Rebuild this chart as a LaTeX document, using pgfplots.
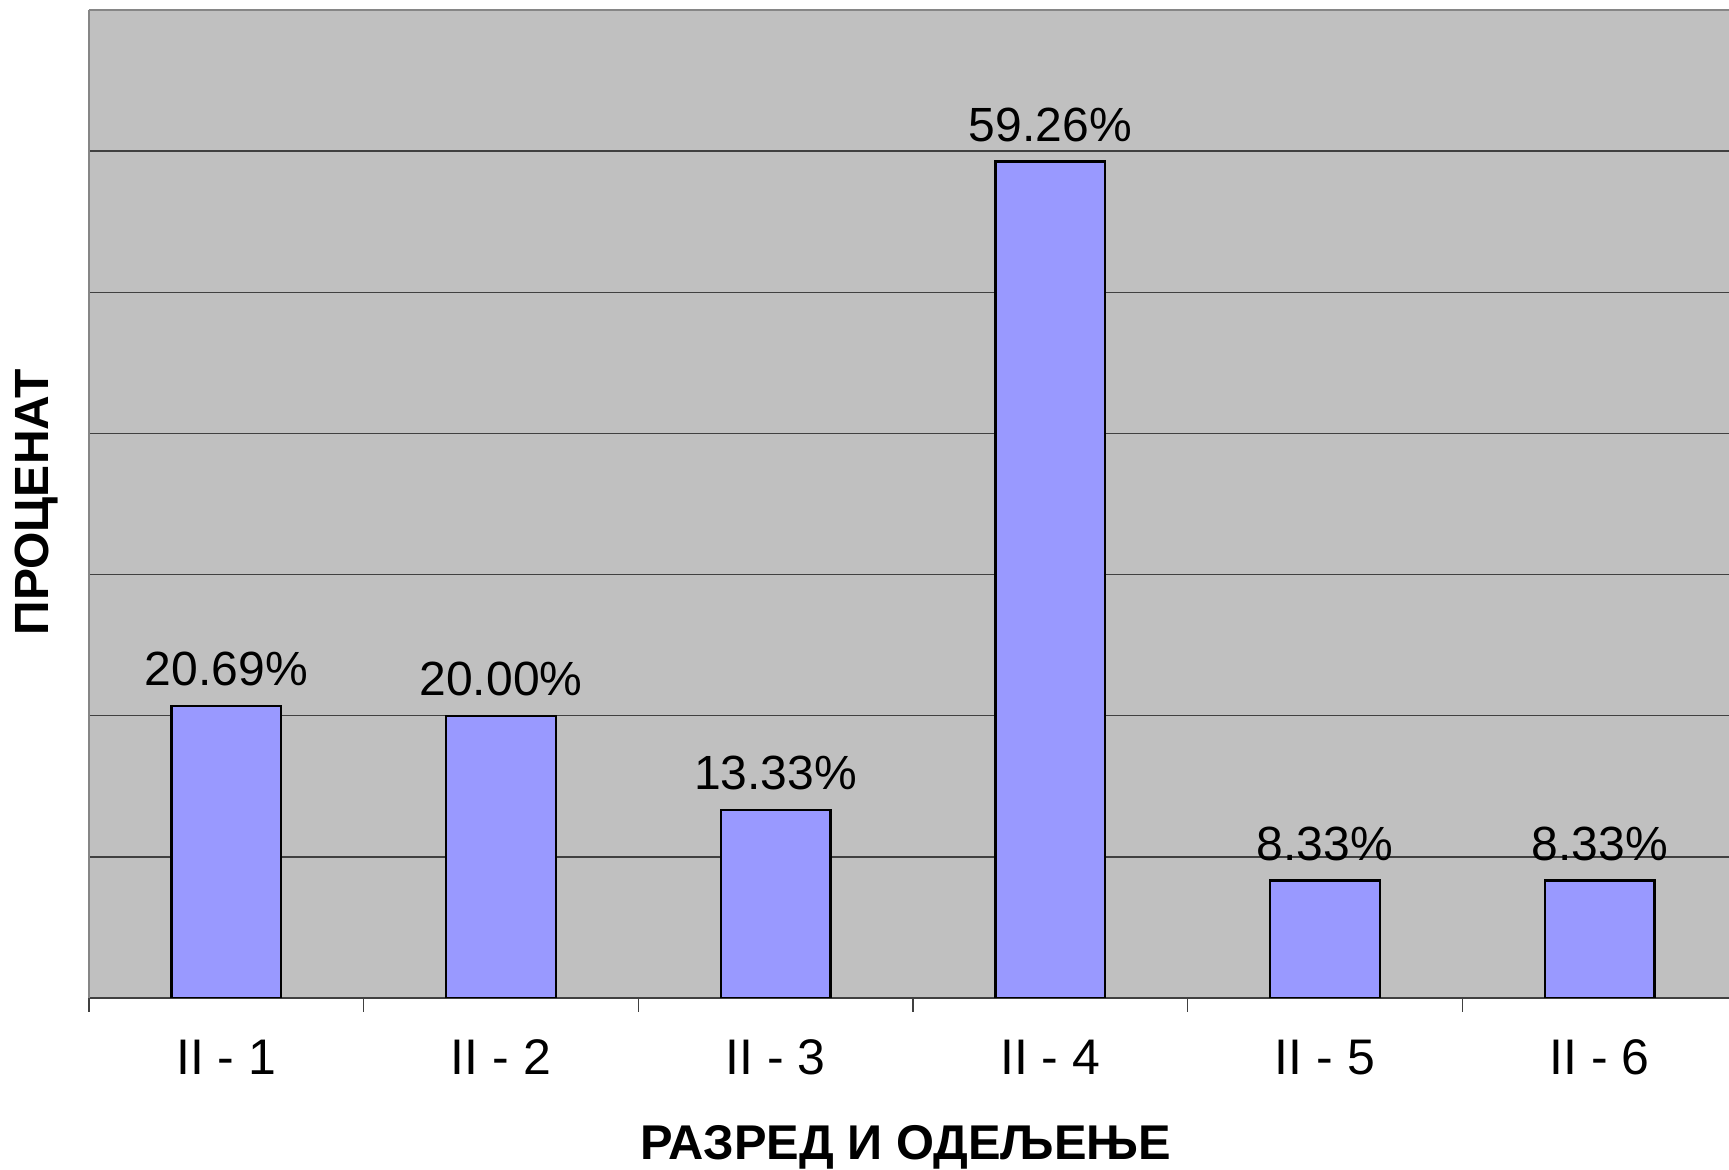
\documentclass[border=0pt]{standalone}
\usepackage{fontspec}
\setmainfont{Liberation Sans}
\usepackage{pgfplots}
\pgfplotsset{compat=1.18}
\definecolor{plotbg}{HTML}{C0C0C0}
\definecolor{barfill}{HTML}{9999FF}
\definecolor{gridc}{HTML}{404040}
\definecolor{framec}{HTML}{868686}
\begin{document}
\begin{tikzpicture}
\useasboundingbox (-44.5pt,-86pt) rectangle (820pt,499pt);
\begin{axis}[
	at={(0,0)}, anchor=south west,
	scale only axis, width=824pt, height=494pt,
	xmin=-0.5, xmax=5.5, ymin=0, ymax=70,
	axis background/.style={fill=plotbg},
	axis x line*=bottom, axis y line*=left,
	x axis line style={gridc, line width=1.3pt},
	y axis line style={framec, line width=1pt},
	ybar, bar width=0.4,
	xtick={0,...,5},
	xticklabels={II - 1, II - 2, II - 3, II - 4, II - 5, II - 6},
	minor xtick={-0.5,0.5,...,4.5},
	major tick length=0pt, minor tick length=7pt,
	tick align=outside,
	minor tick style={gridc, line width=0.6pt},
	xticklabel style={font=\fontsize{25}{30}\selectfont, anchor=base, yshift=-38.5pt},
	ytick={10,20,...,60}, yticklabels={},
	ymajorgrids, grid style={gridc, line width=0.75pt},
	extra y ticks={70}, extra y tick labels={},
	extra y tick style={grid style={framec, line width=1pt}},
	xlabel={\textbf{РАЗРЕД И ОДЕЉЕЊЕ}},
	xlabel style={font=\fontsize{24.4}{28}\selectfont, at={(axis description cs:0.4955,0)}, anchor=base, yshift=-81pt},
	ylabel={\textbf{ПРОЦЕНАТ}},
	ylabel style={font=\fontsize{24}{28}\selectfont, at={(axis description cs:-0.032,0.502)}, anchor=center, rotate=0},
	nodes near coords={\pgfmathprintnumber[fixed,fixed zerofill,precision=2,assume math mode=true]{\pgfplotspointmeta}\%},
	nodes near coords style={font=\fontsize{24}{28}\selectfont, anchor=base, yshift=10pt},
]
\addplot[fill=barfill, draw=black, line width=1.2pt]
	coordinates {(0,20.69) (1,20.00) (2,13.33) (3,59.26) (4,8.33) (5,8.33)};
\end{axis}
\end{tikzpicture}
\end{document}
